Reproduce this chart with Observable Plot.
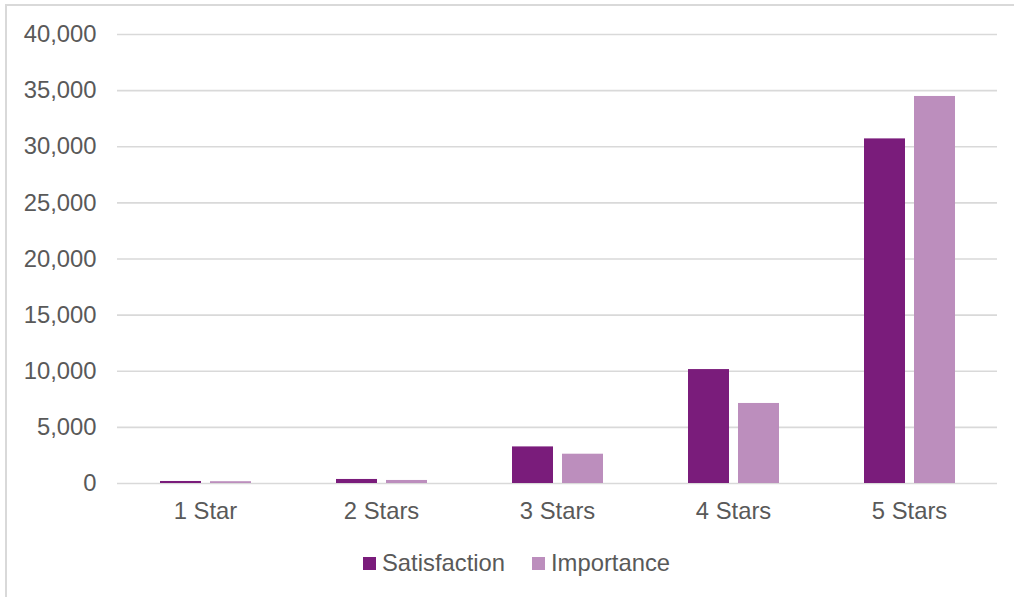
<!DOCTYPE html>
<html>
<head>
<meta charset="utf-8">
<script src="https://cdn.jsdelivr.net/npm/d3@7"></script>
<script src="https://cdn.jsdelivr.net/npm/@observablehq/plot@0.6"></script>
<style>
  html, body { margin: 0; padding: 0; background: #fff; overflow: hidden; }
  body { width: 1014px; height: 597px; position: relative; font-family: "Liberation Sans", Arial, sans-serif; }
  #frame { position: absolute; left: 5px; top: 4px; width: 1030px; height: 620px; border: 2px solid #d9d9d9; box-sizing: border-box; }
  #chart { position: absolute; left: 0; top: 0; }
  #legend { position: absolute; top: 549px; left: 0; height: 28px; font-size: 23.8px; color: #595959; }
  .item { position: absolute; top: 0; display: flex; align-items: center; white-space: nowrap; line-height: 28px; }
  .sw { width: 13px; height: 13px; display: inline-block; margin-right: 6px; }
</style>
</head>
<body>
<div id="frame"></div>
<div id="chart"></div>
<div id="legend"></div>
<script>
const categories = ["1 Star", "2 Stars", "3 Stars", "4 Stars", "5 Stars"];
const series = ["Satisfaction", "Importance"];
const satisfaction = [180, 360, 3260, 10150, 30700];
const importance = [160, 270, 2610, 7130, 34480];
const yTicks = [0, 5000, 10000, 15000, 20000, 25000, 30000, 35000, 40000];
const colors = ["#7a1c7b", "#bc8ebd"];

const rows = [];
categories.forEach((c, i) => {
  rows.push({category: c, series: series[0], value: satisfaction[i]});
  rows.push({category: c, series: series[1], value: importance[i]});
});

const chart = Plot.plot({
  width: 1014,
  height: 530,
  marginLeft: 117,
  marginRight: 17,
  marginTop: 34,
  marginBottom: 47,
  style: {fontSize: "23.8px", fontFamily: "'Liberation Sans', Arial, sans-serif", color: "#595959", background: "transparent"},
  fx: {domain: categories, padding: 0, label: null},
  x: {domain: series, paddingInner: 0.18, paddingOuter: 0.85, axis: null},
  y: {domain: [0, 40000], label: null},
  color: {domain: series, range: colors},
  marks: [
    Plot.gridY(yTicks, {stroke: "#d9d9d9", strokeOpacity: 1, strokeWidth: 1.6}),
    Plot.barY(rows, {fx: "category", x: "series", y: "value", fill: "series"}),
    Plot.axisY(yTicks, {tickSize: 0, tickPadding: 21, tickFormat: d3.format(","), label: null}),
    Plot.axisFx({anchor: "bottom", tickSize: 0, tickPadding: 19, label: null})
  ]
});
document.getElementById("chart").appendChild(chart);

const legend = document.getElementById("legend");
const lefts = [363, 532];
series.forEach((s, i) => {
  const item = document.createElement("div");
  item.className = "item";
  item.style.left = lefts[i] + "px";
  const sw = document.createElement("span");
  sw.className = "sw";
  sw.style.background = colors[i];
  const t = document.createElement("span");
  t.textContent = s;
  item.appendChild(sw);
  item.appendChild(t);
  legend.appendChild(item);
});
</script>
</body>
</html>
